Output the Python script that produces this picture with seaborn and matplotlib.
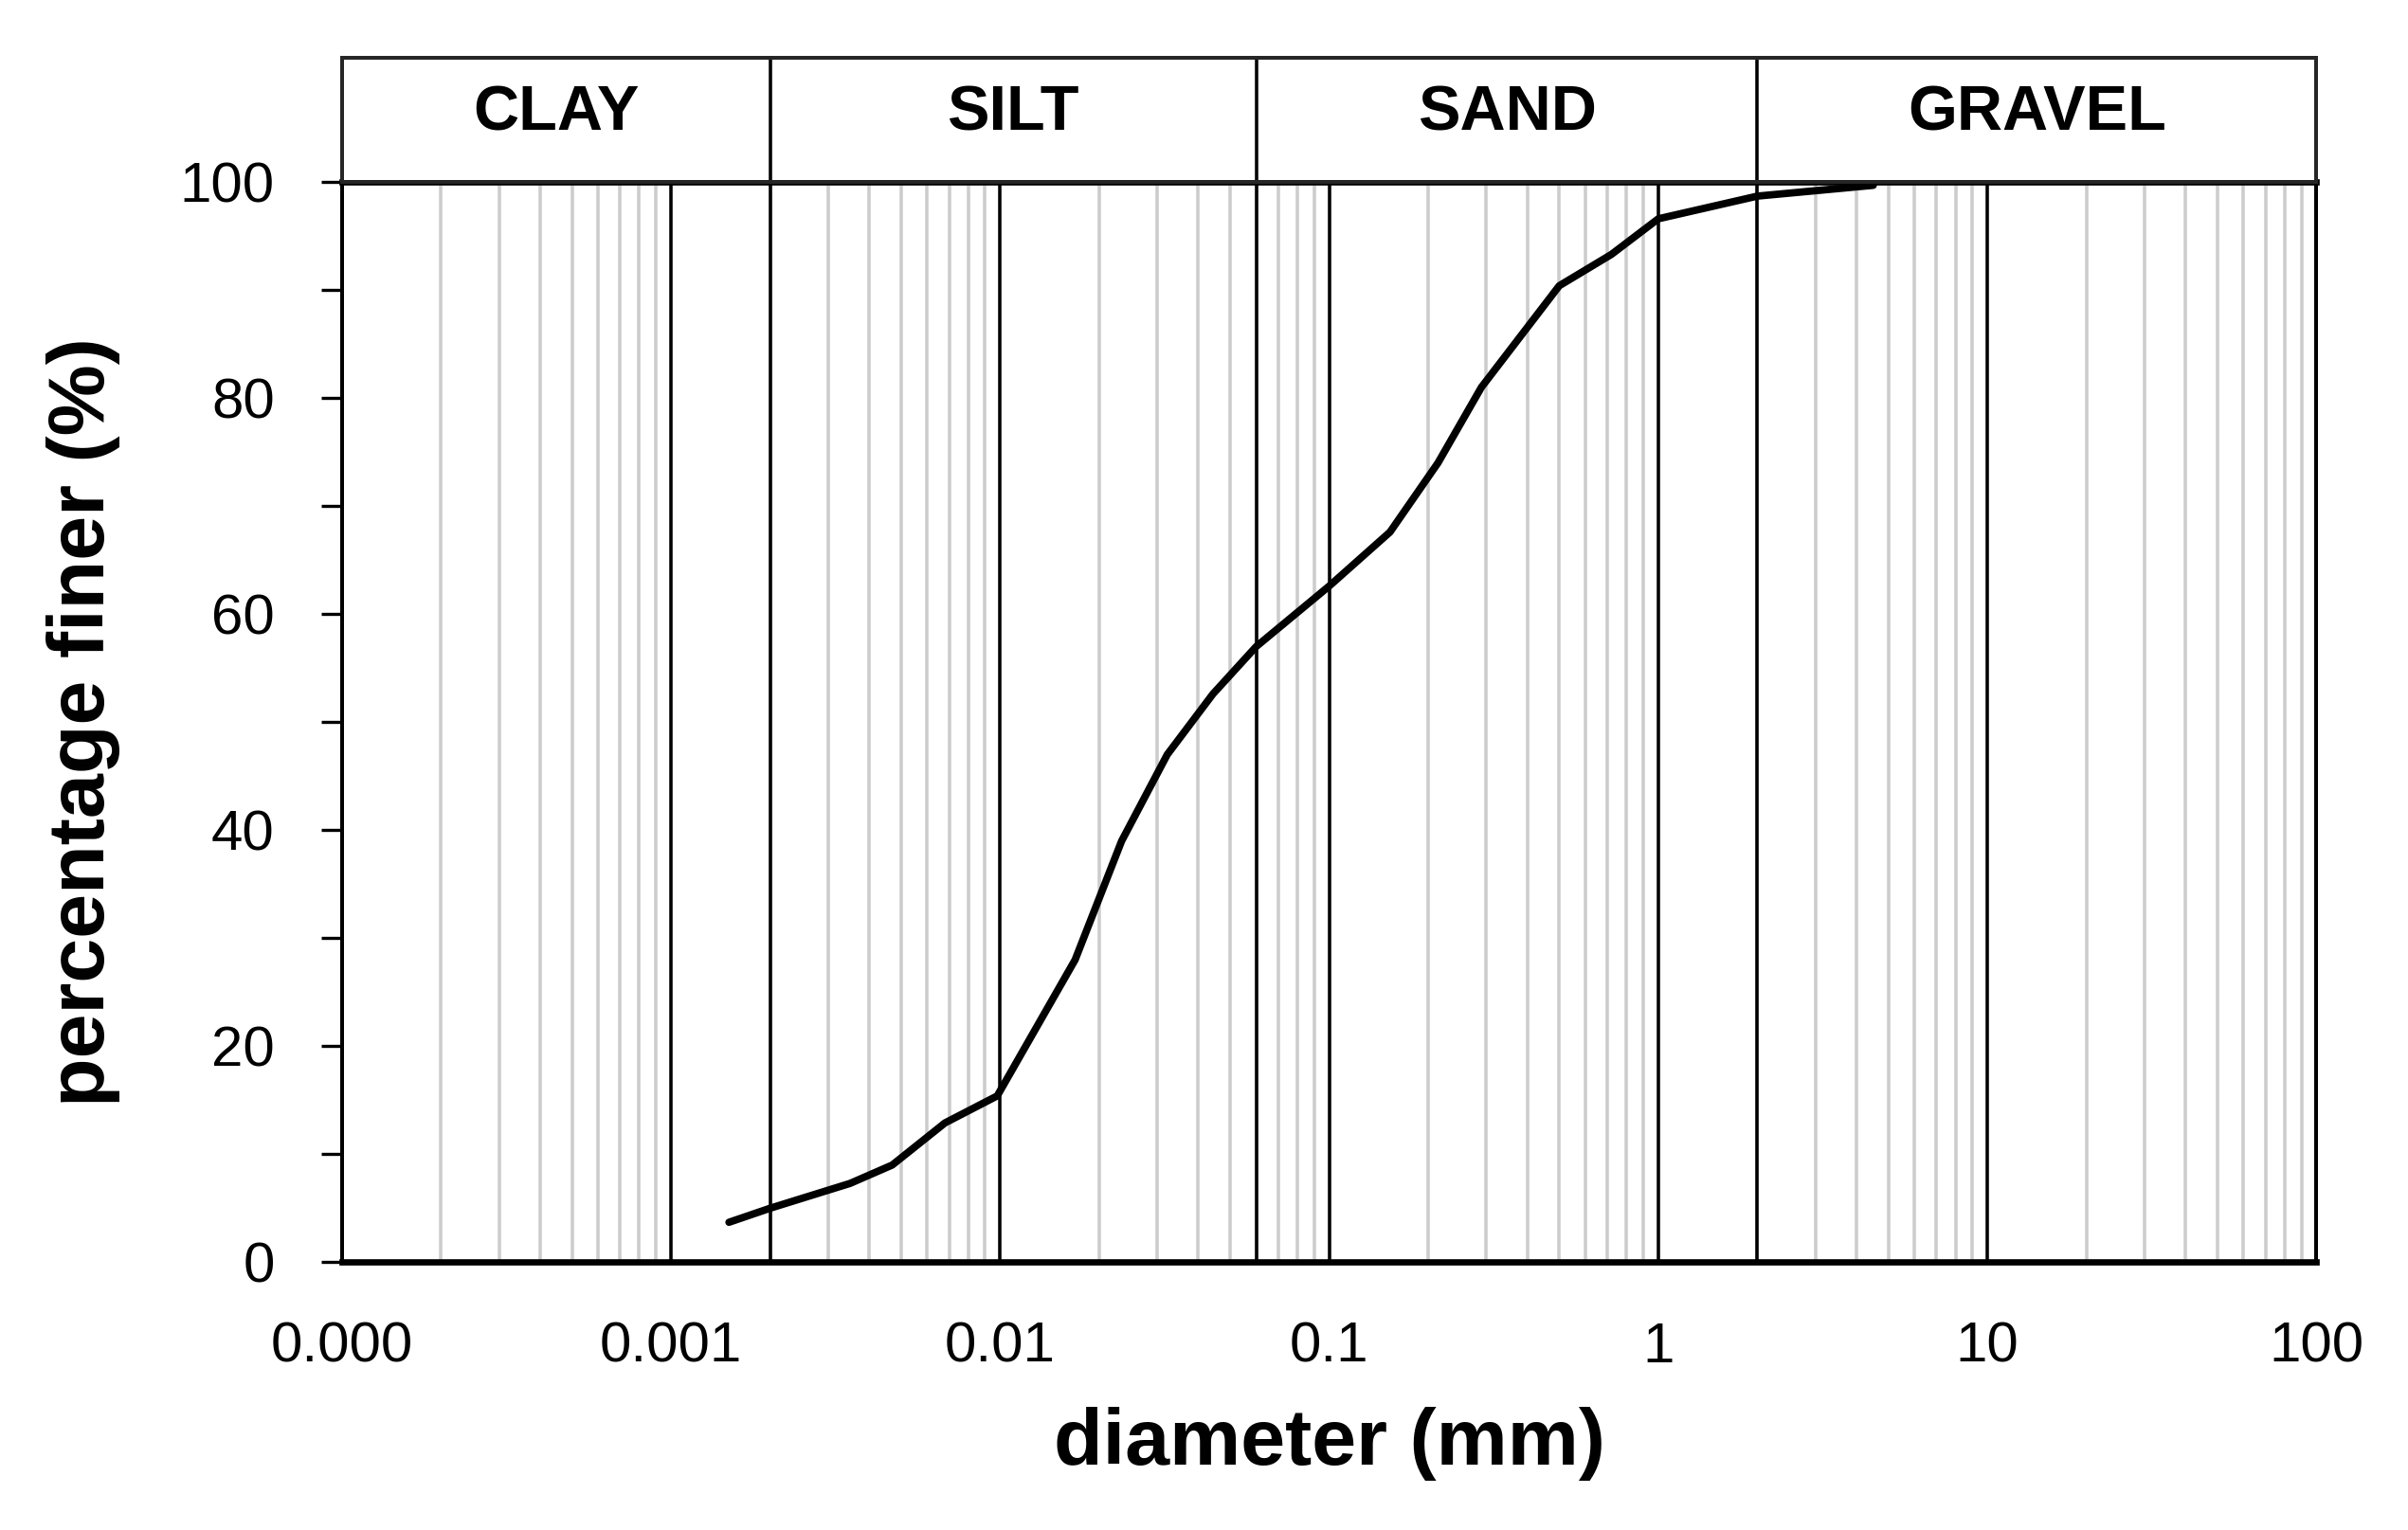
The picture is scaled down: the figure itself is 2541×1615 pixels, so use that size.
import numpy as np
import pandas as pd
import seaborn as sns
import matplotlib.pyplot as plt

sns.set_style("white")
plt.rcParams['font.family'] = ['Liberation Sans', 'DejaVu Sans']
plt.rcParams['text.color'] = 'black'
plt.rcParams['axes.labelcolor'] = 'black'
plt.rcParams['xtick.color'] = 'black'
plt.rcParams['ytick.color'] = 'black'

# grain size curve
diameter = [0.0015, 0.002, 0.0035, 0.0047, 0.0068, 0.0098, 0.0169, 0.0234, 0.0322,
            0.0443, 0.06, 0.1, 0.153, 0.214, 0.29, 0.5, 0.72, 1.0, 2.0, 4.5]
finer = [3.7, 5.0, 7.3, 9.0, 12.9, 15.4, 28.0, 39.0, 47.0,
         52.6, 57.0, 62.6, 67.6, 74.0, 81.0, 90.4, 93.3, 96.6, 98.7, 99.7]
zones = ["CLAY", "SILT", "SAND", "GRAVEL"]
zone_edges = [0.0001, 0.002, 0.06, 2, 100]
xticks = [0.0001, 0.001, 0.01, 0.1, 1, 10, 100]
xticklabels = ["0.000", "0.001", "0.01", "0.1", "1", "10", "100"]

df = pd.DataFrame({"diameter": diameter, "finer": finer})

fig = plt.figure(figsize=(2541 / 160, 1615 / 160), dpi=160)
ax = fig.add_axes([0.142, 0.175, 0.825 - 0.005, 0.706])
hx = fig.add_axes([0.142, 0.881, 0.825 - 0.005, 0.081], sharex=ax)

ax.set_xscale("log")
ax.set_xlim(0.0001, 100)
ax.set_ylim(0, 100)

# minor grid (light gray) and decade lines (black)
for d in range(-4, 2):
    for m in range(2, 10):
        ax.axvline(m * 10.0 ** d, color="#cccccc", lw=1.6, zorder=0)
for v in xticks[1:-1]:
    ax.axvline(v, color="black", lw=1.6, zorder=1)
for v in zone_edges[1:-1]:
    ax.axvline(v, color="black", lw=1.6, zorder=1)
    hx.axvline(v, color="black", lw=1.6)

sns.lineplot(data=df, x="diameter", y="finer", color="black", lw=3.5, ax=ax, zorder=3)

ax.set_xticks(xticks)
ax.set_xticklabels(xticklabels)
ax.xaxis.set_minor_locator(plt.NullLocator())
ax.set_yticks([0, 20, 40, 60, 80, 100])
ax.set_yticks(range(10, 100, 20), minor=True)
ax.tick_params(axis="y", which="both", direction="out", length=10, width=1.5, left=True,
               labelsize=27, pad=22)
ax.tick_params(axis="x", which="major", length=0, labelsize=27, pad=28)
for s in ax.spines.values():
    s.set_linewidth(1.8)
    s.set_color("black")
ax.spines["top"].set_linewidth(3)
ax.spines["bottom"].set_linewidth(3)
ax.set_xlabel("diameter (mm)", fontsize=38, fontweight="bold", labelpad=16)
ax.set_ylabel("percentage finer (%)", fontsize=38, fontweight="bold", labelpad=28)

hx.set_ylim(0, 1)
hx.set_yticks([])
hx.tick_params(axis="x", which="both", bottom=False, labelbottom=False)
for s in hx.spines.values():
    s.set_linewidth(1.8)
for z, lo, hi in zip(zones, zone_edges[:-1], zone_edges[1:]):
    hx.text(np.sqrt(lo * hi), 0.55, z, ha="center", va="center", fontsize=30, fontweight="bold")

fig.savefig("out.png", dpi=160)
